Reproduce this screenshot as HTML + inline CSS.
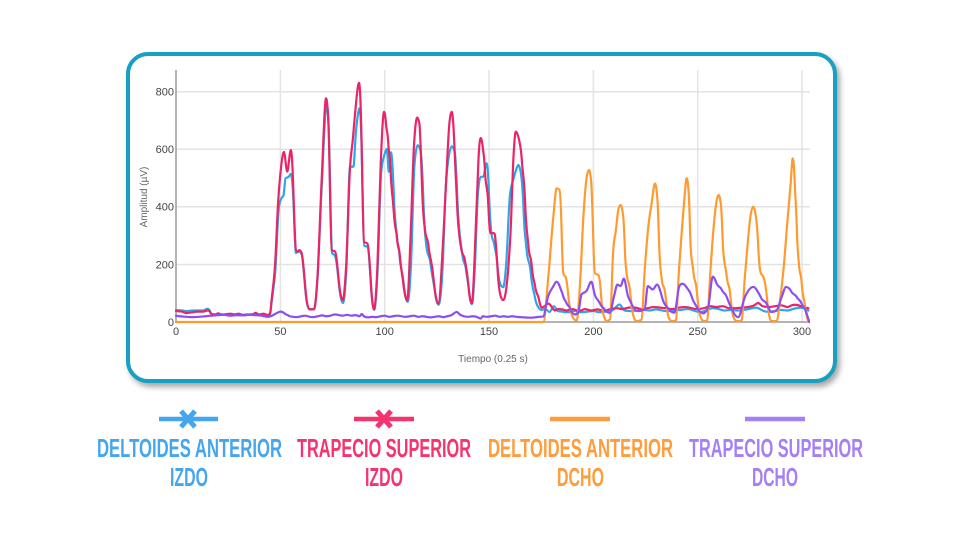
<!DOCTYPE html>
<html><head><meta charset="utf-8"><style>
html,body{margin:0;padding:0;background:#fff;width:960px;height:540px;overflow:hidden}
.card{position:absolute;left:126px;top:52px;width:711px;height:331px;box-sizing:border-box;border:4px solid #17a0c1;border-radius:22px;background:#fff;box-shadow:3px 4px 6px rgba(0,0,0,0.35)}
svg{position:absolute;left:0;top:0}
</style></head><body>
<div class="card"></div>
<svg width="960" height="540" viewBox="0 0 960 540" xmlns="http://www.w3.org/2000/svg">
<g stroke="#e3e3e3" stroke-width="1.5">
<line x1="176" y1="91.7" x2="810" y2="91.7"/><line x1="176" y1="149.2" x2="810" y2="149.2"/><line x1="176" y1="206.8" x2="810" y2="206.8"/><line x1="176" y1="264.5" x2="810" y2="264.5"/>
<line x1="280.4" y1="70" x2="280.4" y2="322"/><line x1="384.7" y1="70" x2="384.7" y2="322"/><line x1="489" y1="70" x2="489" y2="322"/><line x1="593.4" y1="70" x2="593.4" y2="322"/><line x1="697.7" y1="70" x2="697.7" y2="322"/><line x1="802" y1="70" x2="802" y2="322"/>
</g>
<line x1="176" y1="70" x2="176" y2="322" stroke="#9a9a9a" stroke-width="1.5"/>
<line x1="176" y1="322" x2="810" y2="322" stroke="#9a9a9a" stroke-width="1.5"/>
<g font-family="Liberation Sans, sans-serif" font-size="11" fill="#444">
<text x="174" y="95.5" text-anchor="end">800</text><text x="174" y="153" text-anchor="end">600</text><text x="174" y="210.6" text-anchor="end">400</text><text x="174" y="268.3" text-anchor="end">200</text><text x="174" y="326" text-anchor="end">0</text>
<text x="176" y="335" text-anchor="middle">0</text><text x="280.4" y="335" text-anchor="middle">50</text><text x="384.7" y="335" text-anchor="middle">100</text><text x="489" y="335" text-anchor="middle">150</text><text x="593.4" y="335" text-anchor="middle">200</text><text x="697.7" y="335" text-anchor="middle">250</text><text x="802" y="335" text-anchor="middle">300</text>
</g>
<text x="493" y="362" text-anchor="middle" font-family="Liberation Sans, sans-serif" font-size="10" fill="#666">Tiempo (0.25 s)</text>
<text transform="translate(147,197) rotate(-90)" text-anchor="middle" font-family="Liberation Sans, sans-serif" font-size="10" fill="#666">Amplitud (µV)</text>
<defs><clipPath id="pc"><rect x="170" y="60" width="640" height="266"/></clipPath></defs>
<g clip-path="url(#pc)">
<g id="series" transform="matrix(2.087 0 0 -0.2875 176 322)" fill="none" stroke-width="2.2" stroke-linejoin="round" stroke-linecap="round">
<polyline class="s" vector-effect="non-scaling-stroke" stroke="#2fa4e7" points="0,42 3,40 5,38 8,40 10,40 13,40 15,46 16,42 17,28 19,26 20,28 22,25 24,26 26,28 28,25 30,27 32,24 34,25 37,26 38,30 40,25 42,27 44,22 45,26 46,80 47.6,180 49.3,400 50.5,430 51.5,440 52.5,500 54,505 55,515 56,460 57.5,240 59,245 60.2,235 62.6,72 63.9,45 66.1,45 67.7,140 69.8,470 72.2,760 73.3,640 74.8,240 76.2,230 77.8,150 80,66 81.6,180 83.4,540 85,540 86.2,660 88,743 89.2,520 90.2,265 91.7,262 93.3,140 95,42 96.6,180 98.3,520 100,585 101,602 102,523 103,590 104.5,420 105.8,300 107,240 109,140 111,70 112.6,200 114.2,540 115.8,615 117,600 118.5,430 120,262 122,200 124,110 125.8,60 127.6,170 129.2,460 130.8,580 132.2,611 133.6,590 135,400 137.3,230 139,180 140.5,105 141.8,62 143.2,190 144.6,440 146,505 147.2,505 148.8,552 150,440 151.3,300 152.5,270 154,200 155.5,130 156.8,121 158.2,200 160,440 161.8,500 163,530 164,546 165.2,520 166.6,380 168,250 170,170 172,85 173.7,50 175,42 177,45 179,35 181,55 183,38 185,36 188,34 191,38 194,34 197,36 200,38 203,34 206,36 209,40 212.5,61 215,40 218,38 221,40 224,42 227,40 230,44 233,40 236,38 239,40 242,42 245,45 248,40 251,35 254,40 257,48 260,45 263,40 266,42 269,40 272,42 275,46 278,50 281,40 284,35 287,38 290,42 293,40 296,46 299,50 301,48 303,40"/>
<polyline class="s" vector-effect="non-scaling-stroke" stroke="#ea2566" points="0,38 3,36 5,31 8,34 10,36 13,36 15,40 16,38 17,27 19,26 20,30 22,26 24,27 26,29 28,26 30,29 32,25 34,26 37,27 38,32 40,26 42,29 44,24 45,30 46,90 47.4,192 49,424 50.2,529 51.7,592 53.3,523 55,598 55.8,540 57.5,250 58.3,245 59.1,250 60.2,240 62.6,76 63.9,44 66.1,44 67.7,146 69.8,494 71.9,778 73,700 74.6,250 76.2,245 77.8,158 79.9,76 81.5,192 83.4,540 84.7,633 85.8,725 87.7,832 89,600 90.1,279 91.7,273 93.3,146 94.9,44 96.5,192 98.1,552 99.7,731 100.6,691 101.7,622 102.8,530 104.4,378 106,285 107.3,227 108.9,135 110.8,76 112.4,297 114,610 115.6,711 116.6,691 118,450 119.3,320 121,264 123.3,158 125.7,65 128.1,297 129.7,529 131,691 132.1,731 133.2,645 134.8,390 136.8,250 138.4,216 140,135 141.7,65 144.1,413 145.2,600 146,640 146.9,612 148,530 149.6,413 150.7,309 152.5,309 154.1,180 155.7,87 156.8,76 160.2,297 161.8,587 162.8,662 164.4,633 165.7,563 167.3,413 168.9,262 170.5,192 172.1,123 174,76 175.3,50 178.5,64 181.6,40 183,45 185,44 187,40 190,45 193,38 196,45 199,40 202,44 205,38 208,45 211,48 214,45 217,50 220,50 223,45 226,48 229,52 232,50 235,48 238,45 241,50 244,52 247,48 250,45 253,48 256,55 259,52 262,55 265,48 268,48 271,50 274,52 277,58 279,66 281,55 284,52 287,55 290,58 293,52 295,58 297,60 299,56 301,52 303,48"/>
<polyline class="s" vector-effect="non-scaling-stroke" stroke="#ff9a30" points="0,0 176,0 178.4,158 180.8,366 182.4,465 183.7,460 184.8,308 185.6,169 186.9,152 188,90 189.6,26 191.2,7 192,5 193.6,135 195.2,366 196.8,505 197.9,529 198.9,490 200,274 200.8,169 202.4,163 203.7,90 204.8,26 206.4,3 208,10 209.5,250 210.8,320 211.9,389 213,407 214.3,366 215.1,250 215.9,169 217.5,111 219.1,23 220.7,3 223,8 224.7,192 226.3,331 227.9,412 229.5,482 230.7,424 231.6,250 232.8,146 234.4,100 236,17 237.6,3 239.5,5 241,180 242.5,330 243.5,420 244.7,500 245.8,430 246.6,260 247.9,175 249.5,110 251.2,20 253,3 254.5,5 256,170 257.5,320 258.8,410 260,442 261.2,400 262.2,250 263.9,158 265.5,100 267,20 268.6,3 271,5 272.5,150 274,280 275.3,370 276.6,401 277.8,370 279,260 280.2,170 281.4,158 283,95 284.3,20 285.4,3 287.8,3 289.5,80 291.2,192 293.1,362 294.5,480 295.5,569 296.5,480 297.5,320 298.5,200 299.8,135 301.5,50 303,0"/>
<polyline class="s" vector-effect="non-scaling-stroke" stroke="#8c4ef0" points="0,22 2,20 5,18 8,17 11,18 14,20 17,22 20,24 23,25 26,22 29,24 32,23 35,25 38,24 41,22 44,18 46,22 48,30 50,36 52,30 54,22 56,18 58,17 60,20 62,22 64,18 66,17 68,20 70,23 72,20 74,22 76,26 78,24 80,22 82,25 84,22 86,24 88,20 89,28 90,20 92,16 94,18 96,17 98,20 100,22 102,18 104,20 106,22 108,20 110,18 112,20 114,22 116,18 118,20 120,18 122,16 124,18 126,20 128,17 130,20 132,24 134.5,35 136,26 138,20 140,18 142,20 144,18 146,12 147,20 149,18 151,20 153,22 155,18 157,20 159,18 161,20 163,18 165,17 167,16 170,15 172,16 174,18 175.9,19 178.3,90 180.7,123 182.3,140 183.9,123 185.5,90 187.1,66 188.7,49 191.1,26 192.7,32 194.3,96 196.7,108 199,140 200.6,96 203,66 205.4,44 207.8,32 209.9,90 211.5,130 213,125 214.6,151 216.2,101 218.1,66 221.3,38 224.5,44 226.1,125 228.4,113 230.5,130 233.2,78 235.6,49 238.8,32 241.2,125 242.5,133 244.7,120 247,90 249.5,53 252.7,30 255,53 257.2,158 259.1,133 261.5,112 263.9,87 267,35 269.4,17 272.6,87 276.6,122 278.2,112 280.6,81 283,64 285.4,35 287.8,41 290.2,87 292.3,122 295,104 297.4,87 299.8,64 302.2,29 303.5,0"/>
</g>
</g>
<g stroke-width="4.5" stroke-linecap="butt">
<line x1="159" y1="419" x2="218" y2="419" stroke="#45a6ee"/>
<line x1="181" y1="411" x2="195" y2="427" stroke="#45a6ee" stroke-width="5"/><line x1="195" y1="411" x2="181" y2="427" stroke="#45a6ee" stroke-width="5"/>
<line x1="354" y1="419" x2="414" y2="419" stroke="#f5336f"/>
<line x1="377" y1="411" x2="391" y2="427" stroke="#f5336f" stroke-width="5"/><line x1="391" y1="411" x2="377" y2="427" stroke="#f5336f" stroke-width="5"/>
<line x1="550" y1="419" x2="610" y2="419" stroke="#ff9c3c"/>
<line x1="745" y1="419" x2="805" y2="419" stroke="#a57ff4"/>
</g>
<g font-family="Liberation Sans, sans-serif" font-weight="bold" font-size="26">
<text x="97" y="457" textLength="185" lengthAdjust="spacingAndGlyphs" fill="#45a6ee">DELTOIDES ANTERIOR</text>
<text x="170" y="486" textLength="38" lengthAdjust="spacingAndGlyphs" fill="#45a6ee">IZDO</text>
<text x="297" y="457" textLength="174" lengthAdjust="spacingAndGlyphs" fill="#f5336f">TRAPECIO SUPERIOR</text>
<text x="365" y="486" textLength="38" lengthAdjust="spacingAndGlyphs" fill="#f5336f">IZDO</text>
<text x="488" y="457" textLength="185" lengthAdjust="spacingAndGlyphs" fill="#ff9c3c">DELTOIDES ANTERIOR</text>
<text x="557" y="486" textLength="47" lengthAdjust="spacingAndGlyphs" fill="#ff9c3c">DCHO</text>
<text x="689" y="457" textLength="174" lengthAdjust="spacingAndGlyphs" fill="#a57ff4">TRAPECIO SUPERIOR</text>
<text x="752" y="486" textLength="46" lengthAdjust="spacingAndGlyphs" fill="#a57ff4">DCHO</text>
</g>
</svg>
<script>
(function(){
  var NS="http://www.w3.org/2000/svg";
  var pls=document.querySelectorAll("polyline.s");
  for(var k=0;k<pls.length;k++){
    var pl=pls[k];
    var raw=pl.getAttribute("points").trim().split(/\s+/);
    var X=[],Y=[];
    for(var i=0;i<raw.length;i++){var p=raw[i].split(",");X.push(+p[0]);Y.push(+p[1]);}
    var n=X.length; if(n<3) continue;
    var h=[],d=[];
    for(i=0;i<n-1;i++){h.push(X[i+1]-X[i]);d.push((Y[i+1]-Y[i])/(X[i+1]-X[i]));}
    var m=new Array(n);
    m[0]=d[0]; m[n-1]=d[n-2];
    for(i=1;i<n-1;i++){
      var d0=d[i-1],d1=d[i];
      if(d0*d1<=0){m[i]=0;}
      else{
        var pp=(d0*h[i]+d1*h[i-1])/(h[i-1]+h[i]);
        var s=(d0>0?1:-1);
        m[i]=s*Math.min(Math.abs(d0),Math.abs(d1))*2<Math.abs(pp)?s*2*Math.min(Math.abs(d0),Math.abs(d1)):pp;
        var lim=2*Math.min(Math.abs(d0),Math.abs(d1));
        if(Math.abs(m[i])>lim) m[i]=s*lim;
      }
    }
    var str="M"+X[0]+","+Y[0];
    for(i=0;i<n-1;i++){
      var hh=h[i]/3;
      str+=" C"+(X[i]+hh).toFixed(3)+","+(Y[i]+m[i]*hh).toFixed(3)+" "+(X[i+1]-hh).toFixed(3)+","+(Y[i+1]-m[i+1]*hh).toFixed(3)+" "+X[i+1]+","+Y[i+1];
    }
    var path=document.createElementNS(NS,"path");
    path.setAttribute("d",str);
    path.setAttribute("stroke",pl.getAttribute("stroke"));
    path.setAttribute("vector-effect","non-scaling-stroke");
    pl.parentNode.replaceChild(path,pl);
  }
})();
</script>
</body></html>
